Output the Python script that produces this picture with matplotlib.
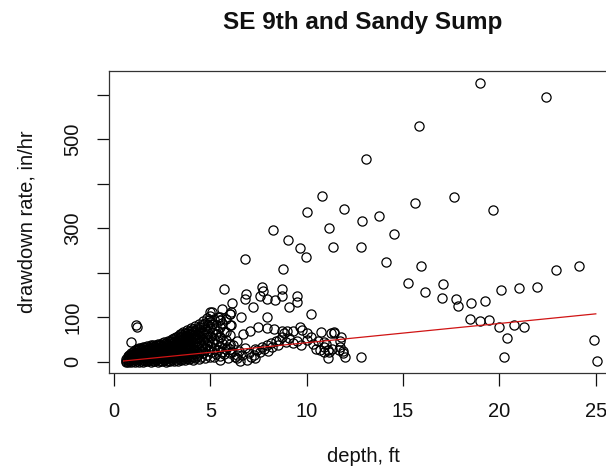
import matplotlib
matplotlib.use("Agg")
import matplotlib.pyplot as plt

plt.rcParams["font.family"] = ["Liberation Sans", "DejaVu Sans"]

# dense cloud of shallow readings: one depth per column, several rates each
cloud_depth = [0.6, 0.7, 0.8, 0.9, 1.0, 1.1, 1.2, 1.3, 1.4, 1.5, 1.6, 1.7, 1.8, 1.9,
               2.0, 2.1, 2.2, 2.3, 2.4, 2.5, 2.6, 2.7, 2.8, 2.9, 3.0, 3.1, 3.2, 3.3,
               3.4, 3.5, 3.6, 3.7, 3.8, 3.9, 4.0, 4.1, 4.2, 4.3, 4.4, 4.5, 4.6, 4.7,
               4.8, 4.9, 5.0, 5.1, 5.2, 5.3, 5.4, 5.5, 5.6, 5.8, 6.0]
cloud_rate = [
    [0, 3, 7], [0, 4, 9, 13], [1, 6, 11, 16], [0, 5, 10, 15, 20], [2, 7, 12, 18, 23],
    [0, 5, 10, 15, 21, 26], [3, 8, 13, 19, 25, 30], [0, 6, 11, 17, 22, 28, 32],
    [2, 8, 14, 20, 26, 31], [0, 5, 11, 17, 23, 29, 34], [3, 9, 15, 21, 27, 33],
    [1, 6, 12, 18, 24, 30, 35], [4, 10, 16, 22, 28, 34], [0, 7, 13, 19, 25, 31, 37],
    [3, 9, 15, 21, 27, 33, 38], [1, 6, 12, 18, 24, 30, 36], [4, 10, 16, 22, 28, 34, 39],
    [0, 7, 13, 19, 25, 31, 37, 41], [3, 9, 15, 21, 27, 33, 39], [1, 6, 12, 18, 24, 30, 36, 42],
    [4, 10, 16, 22, 28, 34, 40, 45], [0, 7, 13, 19, 25, 31, 37, 43], [3, 9, 15, 21, 27, 33, 39, 46],
    [1, 6, 12, 18, 24, 30, 36, 42, 48], [4, 10, 16, 22, 28, 34, 40, 46, 51],
    [2, 8, 14, 20, 26, 32, 38, 44, 53], [5, 11, 17, 23, 29, 35, 41, 48, 56],
    [3, 9, 15, 21, 27, 33, 39, 45, 52, 59], [6, 12, 18, 24, 30, 36, 43, 50, 57, 62],
    [4, 10, 16, 22, 28, 34, 41, 48, 55, 63], [7, 13, 19, 25, 31, 38, 45, 52, 60, 67],
    [5, 11, 17, 23, 29, 36, 44, 51, 58, 65], [8, 14, 20, 27, 34, 41, 49, 57, 64, 71],
    [6, 12, 18, 25, 32, 40, 47, 55, 62, 70], [9, 15, 22, 30, 38, 46, 54, 62, 69, 76],
    [4, 12, 20, 28, 36, 44, 52, 60, 68, 74], [8, 17, 26, 35, 44, 53, 62, 71, 80],
    [13, 23, 33, 43, 53, 63, 73], [6, 18, 30, 42, 55, 67, 78, 86], [11, 25, 39, 52, 66, 79],
    [20, 35, 50, 64, 85, 92], [8, 28, 45, 60, 75, 88], [16, 38, 55, 70, 98],
    [25, 48, 66, 82], [12, 35, 58, 76, 90, 104], [22, 44, 68, 86, 112], [30, 52, 74, 96],
    [18, 40, 62, 84], [26, 48, 70, 100], [14, 34, 56, 78, 94], [22, 42, 88, 120],
    [30, 50, 68, 96], [20, 40, 60, 83, 108],
]

# scattered readings, mid depths
mid_depth = [0.89, 1.14, 1.17, 1.30, 5.71, 7.69, 7.74, 8.70, 6.86, 6.79, 7.55, 7.95, 8.35,
             8.70, 9.50, 9.51, 6.13, 7.20, 9.08, 5.00, 6.08, 6.04, 5.52, 6.61, 7.95, 10.24,
             4.91, 6.09, 5.52, 5.69, 5.52, 6.39, 6.70, 7.08, 7.46, 7.92, 8.30, 8.73, 8.99,
             9.30, 9.65, 9.74, 10.00, 10.20, 10.73, 11.25, 11.43, 11.77, 5.87, 6.13, 6.39,
             6.56, 6.65, 7.26, 7.34, 7.43, 7.69, 7.95, 8.13, 8.39, 8.56, 8.82, 8.73, 9.08,
             9.51, 10.03, 10.56, 10.90, 11.08, 11.16, 11.08, 11.68, 10.90, 11.86, 11.00,
             10.90, 6.40, 6.80, 7.30, 11.73, 11.39, 11.74, 11.86, 11.98, 12.80, 11.30, 5.20,
             5.50, 5.70, 5.90, 6.00, 6.20, 6.30, 6.50, 6.90, 7.00, 7.10, 7.60, 7.80, 8.00,
             8.20, 8.50, 8.90, 9.30, 9.70, 10.30, 10.50, 10.70]
mid_rate = [44, 83, 79, 28, 163, 169, 160, 163, 152, 141, 148, 142, 140,
            148, 147, 135, 132, 123, 123, 113, 113, 108, 102, 102, 102, 108,
            95, 82, 94, 68, 57, 46, 62, 70, 78, 76, 73, 70, 70,
            70, 79, 72, 64, 57, 68, 64, 68, 57, 34, 23, 8,
            1, 16, 16, 8, 27, 34, 38, 42, 46, 49, 64, 57, 53,
            46, 49, 46, 34, 27, 23, 8, 27, 22, 25, 40,
            45, 15, 32, 28, 34, 64, 47, 21, 10, 10, 30, 10,
            5, 18, 8, 28, 38, 12, 25, 5, 20, 12, 22, 30, 25,
            33, 38, 44, 42, 38, 40, 30, 26]

# sparse high-rate and deep readings
high_depth = [10.77, 10.04, 11.91, 8.26, 11.16, 9.05, 11.37, 9.64, 9.98, 6.79, 8.75,
              18.99, 22.41, 15.82, 13.06, 17.64, 15.63, 19.65, 13.73, 12.85, 14.53, 12.80,
              14.13, 15.95, 15.28, 17.05, 16.16, 17.03, 17.76, 17.85, 18.51, 19.23, 20.10,
              21.00, 21.94, 22.95, 24.15, 18.45, 19.00, 19.44, 20.00, 20.78, 21.27, 20.38,
              20.24, 24.91, 25.04]
high_rate = [373, 338, 344, 297, 300, 274, 259, 255, 235, 231, 209,
             628, 596, 530, 457, 370, 358, 341, 329, 317, 288, 259,
             224, 215, 178, 175, 158, 143, 141, 126, 132, 138, 161,
             166, 169, 207, 216, 97, 91, 94, 79, 82, 79, 53,
             10, 49, 1]

# fitted trend line end points
fit_depth = [0.5, 25.0]
fit_rate = [2, 108]

y_ticks = [0, 100, 200, 300, 400, 500, 600]
y_tick_labels = ["0", "100", "", "300", "", "500", ""]
x_ticks = [0, 5, 10, 15, 20, 25]

depth = []
rate = []
for d, rs in zip(cloud_depth, cloud_rate):
    depth += [d] * len(rs)
    rate += rs
depth += mid_depth + high_depth
rate += mid_rate + high_rate

fig = plt.figure(figsize=(6.06, 4.73), dpi=100)
ax = fig.add_axes([109 / 606, 1 - 373 / 473, 508 / 606, 302 / 473])

ax.plot(depth, rate, "o", mfc="none", mec="black", ms=6.6, mew=0.9, linestyle="none")
ax.plot(fit_depth, fit_rate, "-", color="#d01414", lw=0.9)

ax.set_xlim(-0.26, 26.1)
ax.set_ylim(-25, 654)
ax.set_xticks(x_ticks)
ax.set_xticklabels([str(t) for t in x_ticks])
ax.set_yticks(y_ticks)
ax.set_yticklabels(y_tick_labels, rotation=90, va="center")
ax.tick_params(labelsize=14.5, length=9, width=0.9, pad=12, colors="#111111")
ax.tick_params(axis="y", pad=10)

for s in ax.spines.values():
    s.set_linewidth(0.9)
    s.set_color("#333333")

fig.text(363 / 606, 1 - 23 / 473, "SE 9th and Sandy Sump", ha="center", va="center",
         fontsize=17.5, fontweight="bold", color="#111111")
fig.text(363 / 606, 1 - 456 / 473, "depth, ft", ha="center", va="center",
         fontsize=14.5, color="#111111")
fig.text(27 / 606, 1 - 222 / 473, "drawdown rate, in/hr", ha="center", va="center",
         rotation=90, fontsize=14.5, color="#111111")

fig.savefig("out.png", dpi=100)
